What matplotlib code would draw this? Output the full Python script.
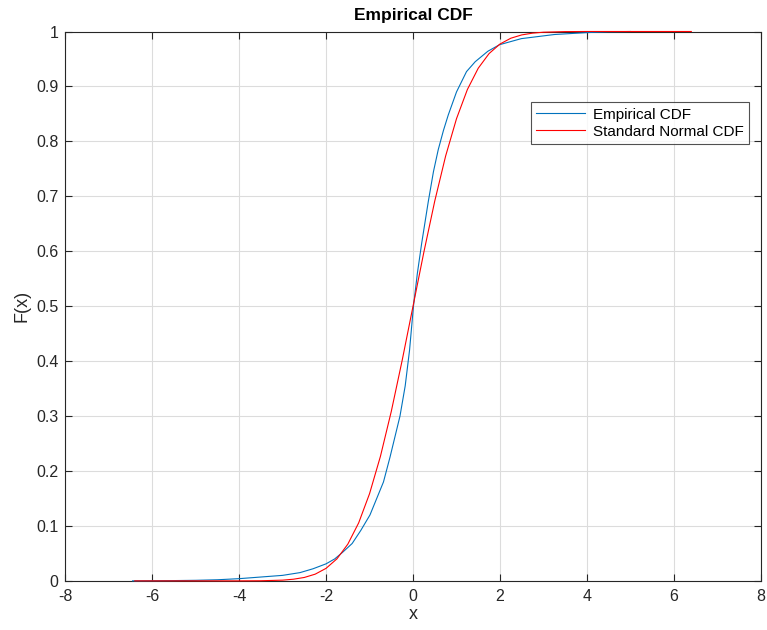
import numpy as np
import matplotlib.pyplot as plt

# --- Data -------------------------------------------------------------
emp_x = [-6.45, -5.5, -5.0, -4.5, -4.0, -3.5, -3.0, -2.6, -2.3, -2.0, -1.8,
         -1.62, -1.4, -1.2, -0.99, -0.68, -0.53, -0.30, -0.18, -0.08, 0.01,
         0.10, 0.20, 0.35, 0.47, 0.58, 0.70, 0.81, 1.00, 1.23, 1.43, 1.72,
         1.99, 2.49, 3.25, 4.0, 4.5, 5.0]
emp_F = [0.0, 0.0005, 0.001, 0.002, 0.004, 0.007, 0.010, 0.015, 0.022, 0.031,
         0.040, 0.052, 0.068, 0.092, 0.120, 0.180, 0.225, 0.300, 0.355, 0.420,
         0.500, 0.560, 0.615, 0.690, 0.745, 0.785, 0.820, 0.848, 0.890, 0.927,
         0.945, 0.964, 0.976, 0.987, 0.9945, 0.998, 0.9995, 1.0]

norm_x = [-6.4, -4.0, -3.5, -3.0, -2.75, -2.5, -2.25, -2.0, -1.75, -1.5, -1.25,
          -1.0, -0.75, -0.5, -0.25, 0.0, 0.25, 0.5, 0.75, 1.0, 1.25, 1.5, 1.75,
          2.0, 2.25, 2.5, 2.75, 3.0, 3.5, 4.0, 6.4]
norm_F = [0.0, 0.0, 0.0002, 0.0013, 0.003, 0.0062, 0.0122, 0.0228, 0.0401,
          0.0668, 0.1056, 0.1587, 0.2266, 0.3085, 0.4013, 0.5, 0.5987, 0.6915,
          0.7734, 0.8413, 0.8944, 0.9332, 0.9599, 0.9772, 0.9878, 0.9938,
          0.997, 0.9987, 0.9998, 1.0, 1.0]

xticks = [-8, -6, -4, -2, 0, 2, 4, 6, 8]
yticks = [0, 0.1, 0.2, 0.3, 0.4, 0.5, 0.6, 0.7, 0.8, 0.9, 1]
ytick_labels = ["0", "0.1", "0.2", "0.3", "0.4", "0.5", "0.6", "0.7", "0.8", "0.9", "1"]

# --- Figure ------------------------------------------------------------
plt.rcParams["font.family"] = ["Liberation Sans", "DejaVu Sans"]
axcol = "#262626"

fig = plt.figure(figsize=(7.67, 6.3), dpi=100)
ax = fig.add_axes([0.085, 0.078, 0.907, 0.872])

ax.plot(emp_x, emp_F, color="#0072BD", linewidth=0.8, label="Empirical CDF",
        zorder=4, clip_on=False)
ax.plot(norm_x, norm_F, color="#FF0000", linewidth=0.8, label="Standard Normal CDF",
        zorder=5, clip_on=False)

ax.set_xlim(-8, 8)
ax.set_ylim(0, 1)
ax.set_xticks(xticks)
ax.set_xticklabels([str(t) for t in xticks])
ax.set_yticks(yticks)
ax.set_yticklabels(ytick_labels)
ax.grid(True, color="#dcdcdc", linewidth=0.8)
ax.set_axisbelow(True)
ax.tick_params(direction="in", top=True, right=True, length=5, width=0.8,
               colors=axcol, labelsize=11.5)
ax.tick_params(axis="x", pad=6)
ax.tick_params(axis="y", pad=5)
for s in ax.spines.values():
    s.set_color(axcol)
    s.set_linewidth(0.8)
    s.set_zorder(3)

ax.set_xlabel("x", fontsize=13, color=axcol, labelpad=1)
ax.set_ylabel("F(x)", fontsize=13, color=axcol, labelpad=4)
ax.set_title("Empirical CDF", fontsize=12.5, fontweight="bold", pad=8)

leg = ax.legend(loc="upper right", bbox_to_anchor=(0.983, 0.871), fontsize=11,
                frameon=True, fancybox=False, borderpad=0.35, handlelength=3.2,
                handletextpad=0.5, labelspacing=0.2, borderaxespad=0)
leg.get_frame().set_edgecolor(axcol)
leg.get_frame().set_linewidth(0.8)
leg.set_zorder(6)

plt.savefig("out.png", dpi=100)
plt.close()
